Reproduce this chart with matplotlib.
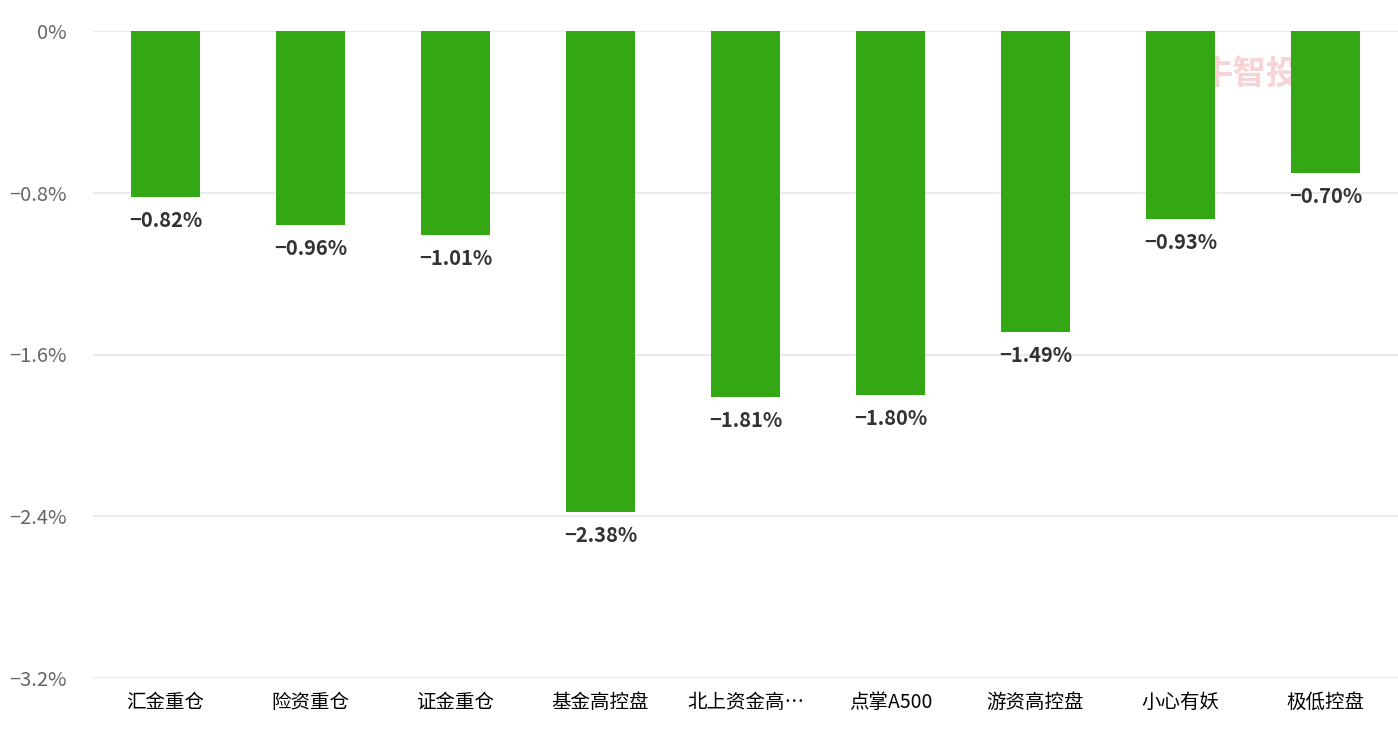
import matplotlib.pyplot as plt

plt.rcParams['font.family'] = ['Noto Sans CJK SC', 'DejaVu Sans']

categories = ['汇金重仓', '险资重仓', '证金重仓', '基金高控盘', '北上资金高…',
              '点掌A500', '游资高控盘', '小心有妖', '极低控盘']
values = [-0.82, -0.96, -1.01, -2.38, -1.81, -1.80, -1.49, -0.93, -0.70]
yticks = [0, -0.8, -1.6, -2.4, -3.2]
ytick_labels = ['0%', '\u22120.8%', '\u22121.6%', '\u22122.4%', '\u22123.2%']

fig = plt.figure(figsize=(13.98, 7.33), dpi=100)
ax = fig.add_axes([93 / 1398, 55 / 733, 1 - 93 / 1398, 647 / 733])

x = range(len(categories))
ax.bar(x, values, width=0.48, color='#33a814', zorder=3)

for i, v in enumerate(values):
    ax.text(i, v - 0.065, '\u2212%.2f%%' % abs(v), ha='center', va='top',
            fontsize=14.5, color='#333333', fontweight='bold', zorder=4)

ax.set_ylim(-3.2, 0)
ax.set_xlim(-0.5, len(categories) - 0.5)
ax.set_yticks(yticks)
ax.set_yticklabels(ytick_labels, color='#666666', fontsize=14.5)
ax.set_xticks(list(x))
ax.set_xticklabels(categories, fontsize=14, color='#000000')
ax.tick_params(axis='both', length=0)
ax.tick_params(axis='y', pad=19)
ax.tick_params(axis='x', pad=10)
ax.yaxis.grid(True, color='#e6e6e6', linewidth=1.2, zorder=0)
ax.set_axisbelow(True)
for s in ax.spines.values():
    s.set_visible(False)

# watermark, sits behind the bars
ax.text(7.47, -0.22, '牛智投', fontsize=24, color='#f8d3d6',
        fontweight='bold', ha='center', va='center', zorder=1)

fig.savefig('out.png', dpi=100)
